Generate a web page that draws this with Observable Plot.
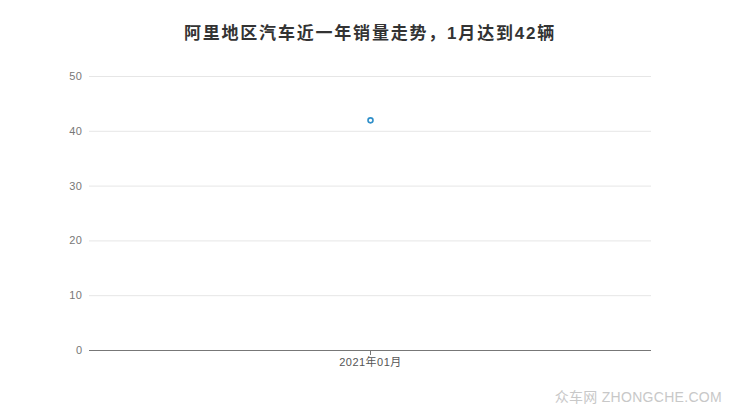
<!DOCTYPE html>
<html><head><meta charset="utf-8">
<script src="https://cdn.jsdelivr.net/npm/d3@7"></script>
<script src="https://cdn.jsdelivr.net/npm/@observablehq/plot@0.6"></script>
<style>
body{margin:0;background:#fff;font-family:"Liberation Sans","Noto Sans CJK SC",sans-serif;}
#wrap{position:relative;width:740px;height:417px;overflow:hidden;}
#title{height:56px;line-height:67px;text-align:center;font-size:17px;letter-spacing:1.8px;font-weight:bold;color:#333;font-family:"Liberation Sans","Noto Sans CJK SC",sans-serif;}
#wm{position:absolute;right:18px;bottom:11px;font-size:14px;color:#c8c8c8;letter-spacing:0.3px;font-family:"Liberation Sans","Noto Sans CJK SC",sans-serif;}
</style></head>
<body><div id="wrap"><div id="title">阿里地区汽车近一年销量走势，1月达到42辆</div><div id="chart"></div><div id="wm">众车网 ZHONGCHE.COM</div></div>
<script>
const months = ["2021年01月"];
const sales = [42];
const yTicks = [0, 10, 20, 30, 40, 50];
const data = months.map((m, i) => ({month: m, value: sales[i]}));
const plot = Plot.plot({
  width: 740, height: 361,
  marginTop: 20, marginBottom: 67, marginLeft: 89, marginRight: 89,
  style: {fontFamily: "Liberation Sans, Noto Sans CJK SC, sans-serif", fontSize: "11px", color: "#666", background: "#fff", letterSpacing: "0.5px"},
  x: {type: "point", domain: months, label: null},
  y: {domain: [0, 50], label: null},
  marks: [
    Plot.gridY(yTicks, {stroke: "#e6e6e6", strokeOpacity: 1}),
    Plot.axisY(yTicks, {tickSize: 0, tickPadding: 7, fill: "#777", label: null}),
    Plot.ruleY([0], {stroke: "#777", strokeWidth: 1.2}),
    Plot.axisX({tickSize: 5, tickPadding: 3, stroke: "#777", fill: "#555", label: null}),
    Plot.dot(data, {x: "month", y: "value", r: 2.5, stroke: "#2f8fc9", strokeWidth: 1.6, fill: "#fff"})
  ]
});
document.getElementById("chart").appendChild(plot);
</script></body></html>
